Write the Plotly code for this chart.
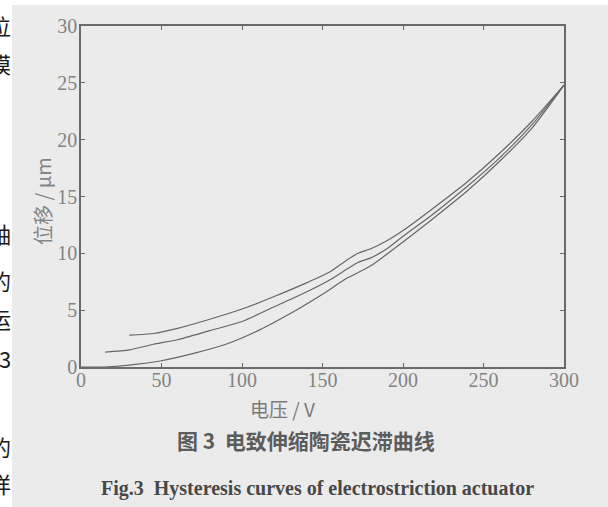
import plotly.graph_objects as go

# ---- data ----
upper_v = [30, 45, 60, 80, 100, 120, 140, 155, 165, 172, 180, 190, 200, 220, 240, 260, 280, 300]
upper_d = [2.8, 2.95, 3.4, 4.2, 5.1, 6.2, 7.4, 8.4, 9.4, 10.0, 10.4, 11.1, 12.0, 14.1, 16.3, 18.8, 21.6, 24.8]

middle_v = [15, 30, 45, 60, 80, 100, 120, 140, 155, 165, 172, 180, 190, 200, 220, 240, 260, 280, 300]
middle_d = [1.3, 1.5, 2.0, 2.4, 3.2, 4.0, 5.3, 6.6, 7.7, 8.6, 9.2, 9.6, 10.4, 11.5, 13.6, 15.9, 18.4, 21.3, 24.8]

lower_v = [0, 15, 25, 35, 50, 70, 90, 110, 130, 150, 165, 180, 200, 220, 240, 260, 280, 300]
lower_d = [0, 0, 0.1, 0.25, 0.55, 1.2, 2.0, 3.2, 4.7, 6.4, 7.8, 8.9, 11.0, 13.2, 15.5, 18.1, 21.0, 24.8]

x_ticks = [0, 50, 100, 150, 200, 250, 300]
y_ticks = [0, 5, 10, 15, 20, 25, 30]

x_title = "电压 / V"
y_title = "位移 / μm"
caption_cn = "<b>图 3  电致伸缩陶瓷迟滞曲线</b>"
caption_en = "<b>Fig.3  Hysteresis curves of electrostriction actuator</b>"

# fragments of the neighbouring page column (cut at the scan edge)
side_chars = ["位", "模", "轴", "的", "运", "3", "的", "详"]
side_rows = [25, 63, 233, 280, 318, 358, 446, 483]

# ---- layout geometry ----
W, H = 608, 507
L, R, T, B = 81, 44, 26, 140
PW = W - L - R
PH = H - T - B


def px2x(px):
    return (px - L) / PW


def py2y(py):
    return (H - B - py) / PH


line_style = dict(color="#666666", width=1.2)
serif = "Liberation Serif, Times New Roman, serif"
cjk = "Noto Sans CJK SC, sans-serif"

fig = go.Figure()
for xs, ys in [(upper_v, upper_d), (middle_v, middle_d), (lower_v, lower_d)]:
    fig.add_trace(go.Scatter(x=xs, y=ys, mode="lines",
                             line=dict(shape="spline", smoothing=0.6, **line_style),
                             showlegend=False, hoverinfo="skip"))

axis_common = dict(
    showline=True, linecolor="#6a6a6a", linewidth=1.5, mirror="ticks",
    ticks="inside", ticklen=4, tickwidth=1, tickcolor="#6a6a6a",
    showgrid=False, zeroline=False,
    tickfont=dict(family=serif, size=20, color="#838383"),
)

fig.update_xaxes(range=[0, 300], tickvals=x_ticks, ticktext=[str(v) for v in x_ticks],
                 ticklabelstandoff=-6, **axis_common)
fig.update_yaxes(range=[0, 30], tickvals=y_ticks, ticktext=[str(v) for v in y_ticks],
                 ticklabelstandoff=-2, **axis_common)

shapes = [
    dict(type="rect", xref="paper", yref="paper",
         x0=px2x(12), x1=px2x(W + 5), y0=py2y(H + 5), y1=py2y(5),
         fillcolor="#ebebeb", line=dict(width=0), layer="below"),
]

annotations = [
    dict(text=x_title, xref="paper", yref="paper", x=px2x(282), y=py2y(409),
         xanchor="center", yanchor="middle",
         showarrow=False, font=dict(family=cjk, size=19, color="#7a7a7a")),
    dict(text=y_title, xref="paper", yref="paper", x=px2x(42), y=py2y(201), textangle=-90,
         xanchor="center", yanchor="middle",
         showarrow=False, font=dict(family=cjk, size=20, color="#858585")),
    dict(text=caption_cn, xref="paper", yref="paper", x=px2x(306), y=py2y(440),
         xanchor="center", yanchor="middle",
         showarrow=False, font=dict(family=cjk, size=21, color="#5c5c5c")),
    dict(text=caption_en, xref="paper", yref="paper", x=px2x(317), y=py2y(488),
         xanchor="center", yanchor="middle",
         showarrow=False, font=dict(family=serif, size=20, color="#484848")),
]
for ch, row in zip(side_chars, side_rows):
    annotations.append(dict(text=ch, xref="paper", yref="paper", x=px2x(13), y=py2y(row),
                            xanchor="right", yanchor="middle", showarrow=False,
                            font=dict(family=cjk, size=22, color="#1a1a1a")))

fig.update_layout(
    width=W, height=H,
    margin=dict(l=L, r=R, t=T, b=B),
    paper_bgcolor="white",
    plot_bgcolor="rgba(0,0,0,0)",
    shapes=shapes,
    annotations=annotations,
)

fig.write_html("out.html", config={"displayModeBar": False},
               post_script="document.body.style.margin='0';")
